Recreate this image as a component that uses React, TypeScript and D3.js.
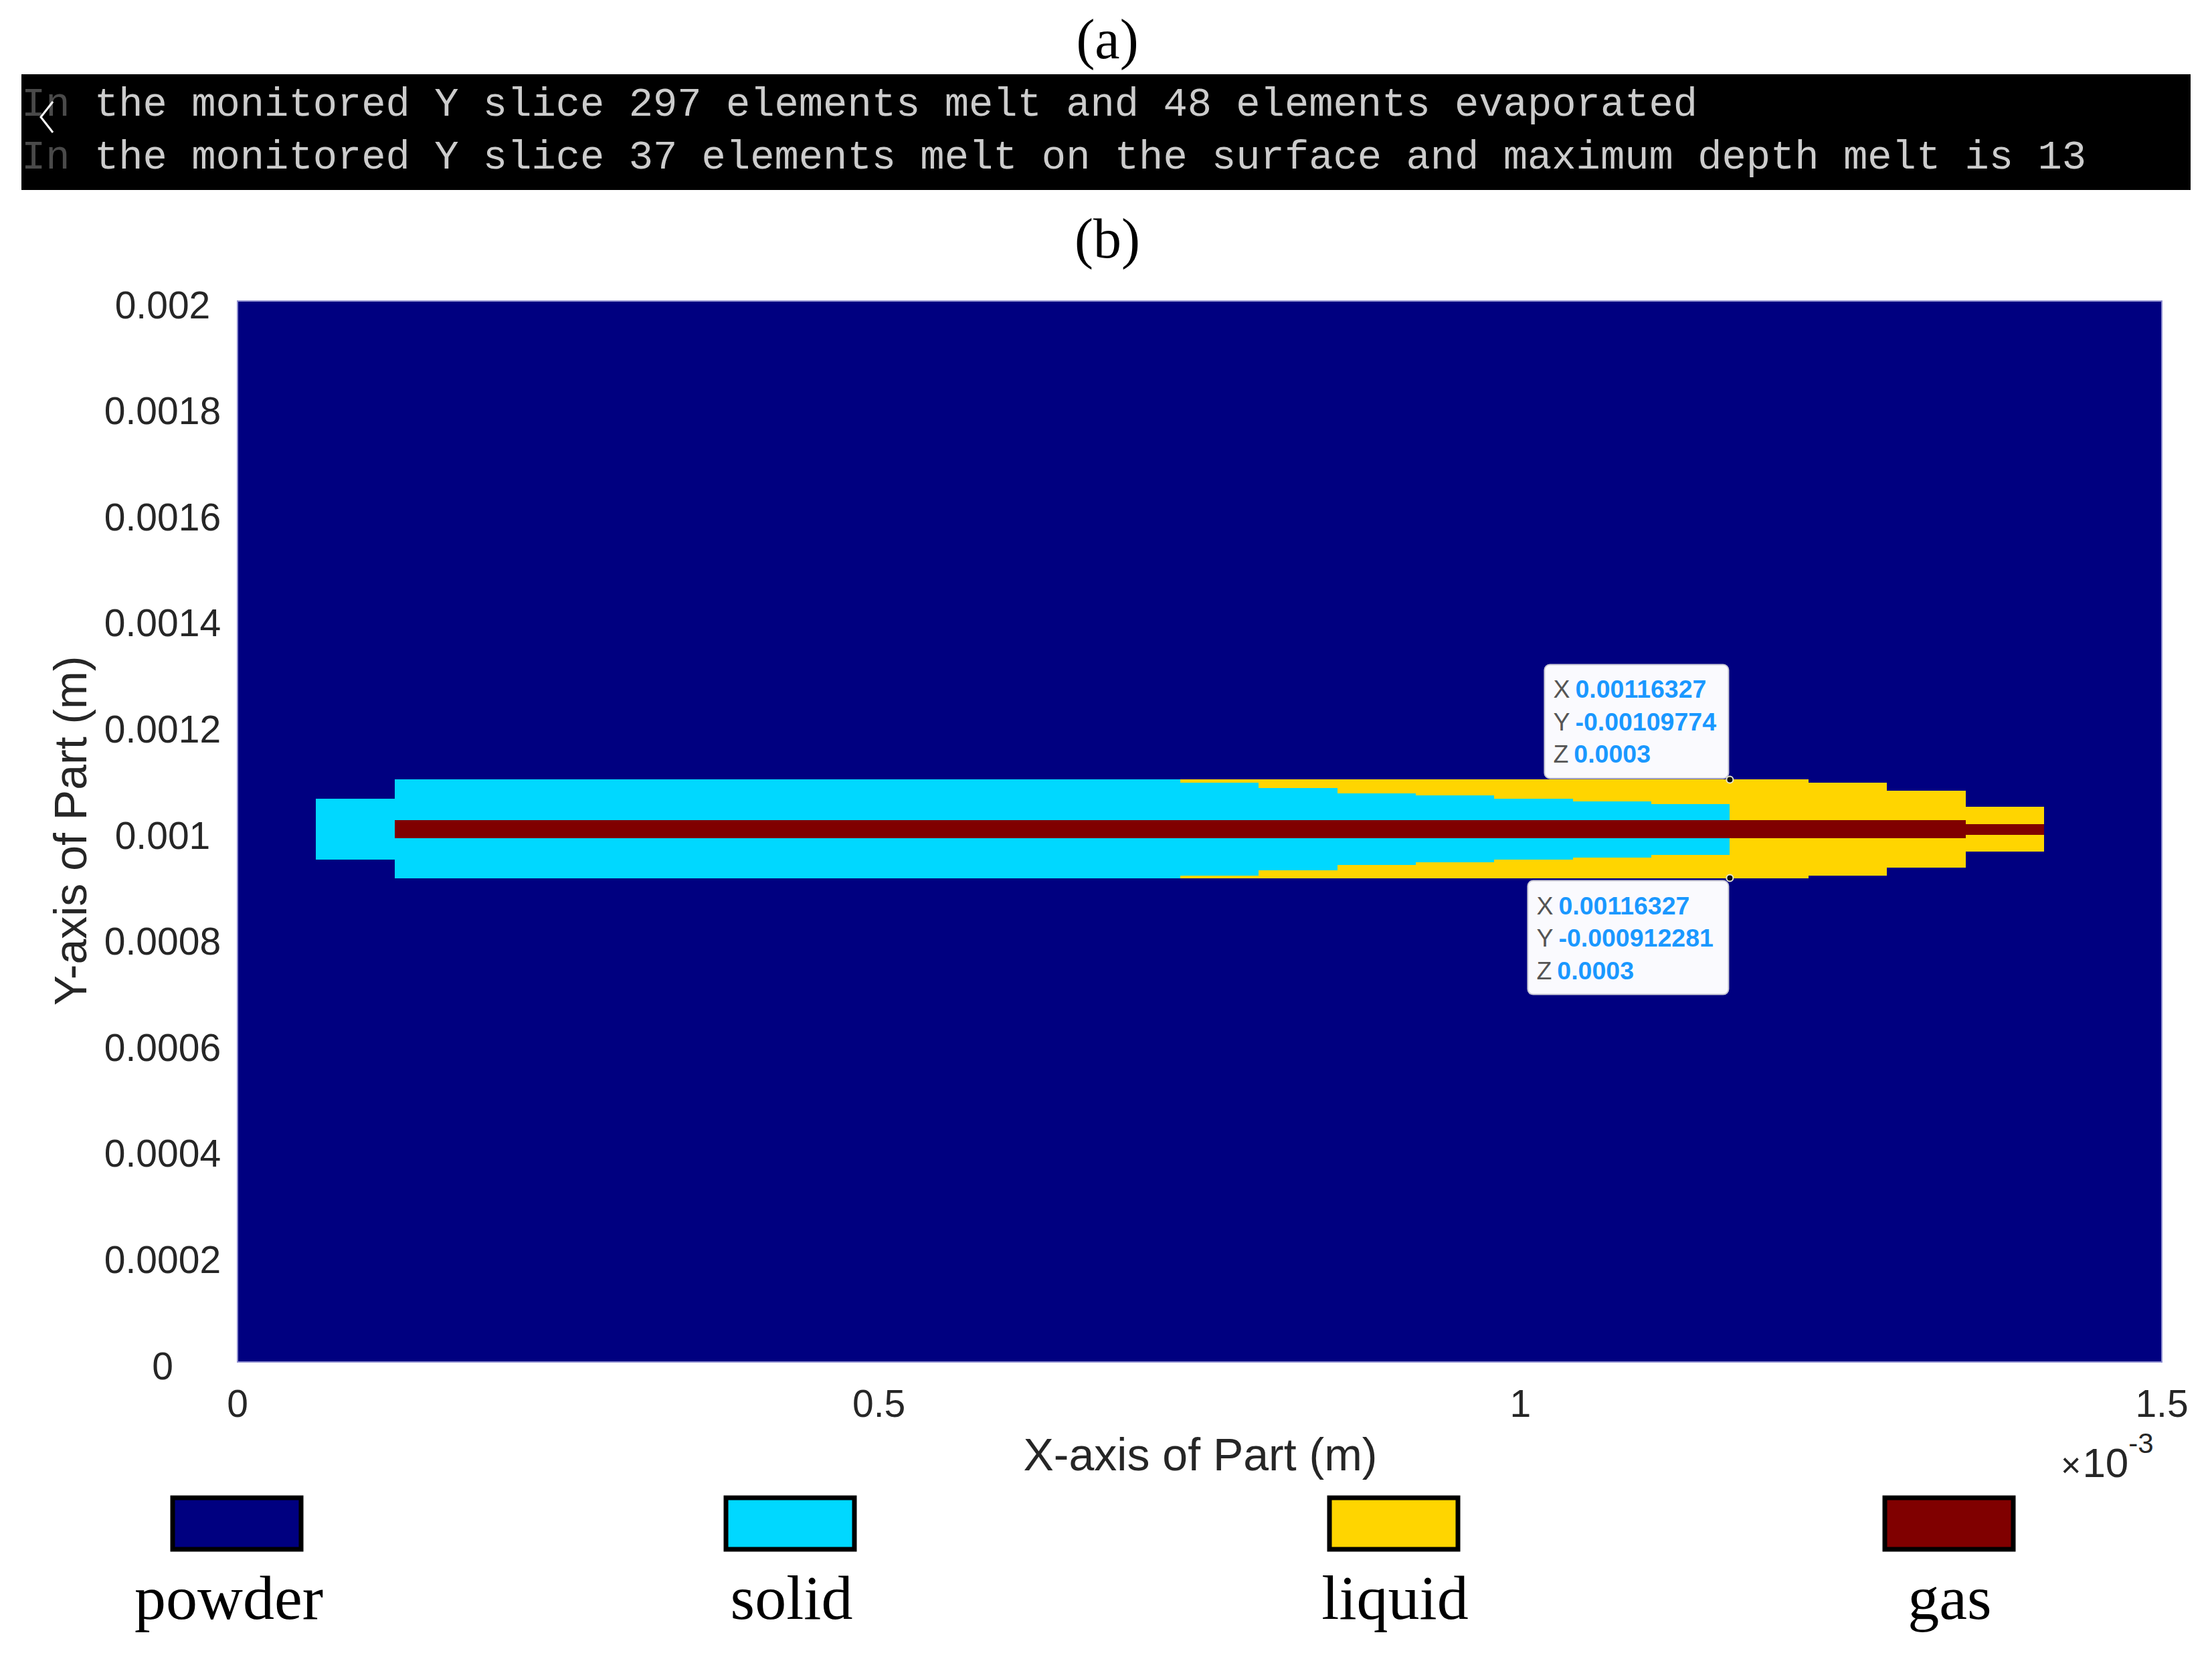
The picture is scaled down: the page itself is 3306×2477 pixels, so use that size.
import React from "react";
import * as d3 from "d3";

// ---- data ----
const consoleLines = [
  "the monitored Y slice 297 elements melt and 48 elements evaporated",
  "the monitored Y slice 37 elements melt on the surface and maximum depth melt is 13",
];

const xTicks = [0, 0.0005, 0.001, 0.0015];
const xTickLabels = ["0", "0.5", "1", "1.5"];
const yTicks = [0, 0.0002, 0.0004, 0.0006, 0.0008, 0.001, 0.0012, 0.0014, 0.0016, 0.0018, 0.002];
const yTickLabels = ["0", "0.0002", "0.0004", "0.0006", "0.0008", "0.001", "0.0012", "0.0014", "0.0016", "0.0018", "0.002"];

// column edges (m) of the melt-track elements
const colEdges = [
  0.0000612, 0.0001225, 0.0007347, 0.0007959, 0.0008572, 0.0009184, 0.0009796,
  0.0010408, 0.0011021, 0.00116327, 0.0012245, 0.0012857, 0.001347, 0.0014082,
];
const outerState = ["solid", "solid", "liquid", "liquid", "liquid", "liquid", "liquid", "liquid", "liquid", "liquid", "liquid", "liquid", "liquid"];
const outerTop = [0.0010618, 0.00109774, 0.00109774, 0.00109774, 0.00109774, 0.00109774, 0.00109774, 0.00109774, 0.00109774, 0.00109774, 0.0010921, 0.0010769, 0.0010467];
const outerBottom = [0.000947, 0.000912281, 0.000912281, 0.000912281, 0.000912281, 0.000912281, 0.000912281, 0.000912281, 0.000912281, 0.000912281, 0.0009168, 0.0009319, 0.0009622];
const solidTop = [null, null, 0.0010921, 0.001082, 0.0010719, 0.0010681, 0.0010618, 0.0010567, 0.0010517, null, null, null, null];
const solidBottom = [null, null, 0.0009168, 0.0009269, 0.0009369, 0.000942, 0.000947, 0.0009508, 0.0009559, null, null, null, null];
const gasTop = [null, 0.0010214, 0.0010214, 0.0010214, 0.0010214, 0.0010214, 0.0010214, 0.0010214, 0.0010214, 0.0010214, 0.0010214, 0.0010214, 0.0010139];
const gasBottom = [null, 0.0009874, 0.0009874, 0.0009874, 0.0009874, 0.0009874, 0.0009874, 0.0009874, 0.0009874, 0.0009874, 0.0009874, 0.0009874, 0.0009937];

const legendStates = ["powder", "solid", "liquid", "gas"];
const stateColors: Record<string, string> = {
  powder: "#000080",
  solid: "#00D8FF",
  liquid: "#FFD500",
  gas: "#800000",
};

const tipPoints = [
  { x: 0.00116327, y: 0.00109774, labels: ["X", "Y", "Z"], values: ["0.00116327", "-0.00109774", "0.0003"] },
  { x: 0.00116327, y: 0.000912281, labels: ["X", "Y", "Z"], values: ["0.00116327", "-0.000912281", "0.0003"] },
];

// layout: legend item centres (px)
const legendCenters = [354, 1181, 2083, 2913];
const legendLabelCenters = [342, 1183, 2085, 2914];

export default function App() {
  const W = 3306, H = 2477;
  const x = d3.scaleLinear().domain([0, 0.0015]).range([355, 3231]);
  const y = d3.scaleLinear().domain([0, 0.002]).range([2036, 450]);
  const legendX = d3.scaleOrdinal<string, number>().domain(legendStates).range(legendCenters);
  const legendLX = d3.scaleOrdinal<string, number>().domain(legendStates).range(legendLabelCenters);
  const sans = "'Liberation Sans', Arial, Helvetica, sans-serif";
  const serif = "'Liberation Serif', 'Times New Roman', serif";
  const mono = "'Liberation Mono', 'DejaVu Sans Mono', monospace";
  const axisColor = "#262626";

  const cols = outerState.map((s, i) => ({
    x0: colEdges[i], x1: colEdges[i + 1], s,
    ot: outerTop[i], ob: outerBottom[i],
    st: solidTop[i], sb: solidBottom[i],
    gt: gasTop[i], gb: gasBottom[i],
  }));

  const rect = (x0: number, x1: number, y0: number, y1: number, fill: string, key: string) => (
    <rect key={key} x={x(x0)} y={y(y1)} width={x(x1) - x(x0)} height={y(y0) - y(y1)} fill={fill} shapeRendering="crispEdges" />
  );

  return (
    <svg width={W} height={H} style={{ position: "absolute", left: 0, top: 0, background: "#fff" }}>
      <rect x={0} y={0} width={W} height={H} fill="#fff" />
      {/* (a) */}
      <text x={1655} y={87} fontFamily={serif} fontSize={84} textAnchor="middle" fill="#000">(a)</text>
      <rect x={32} y={111} width={3242} height={173} fill="#000" />
      {consoleLines.map((t, i) => (
        <text key={i} x={32} y={173 + i * 79} fontFamily={mono} fontSize={60.5} fill="#cccccc" xmlSpace="preserve">
          <tspan fill="#4a4a4a">In</tspan> {t}
        </text>
      ))}
      <path d="M79,152 L61,175 L79,198" fill="none" stroke="#ffffff" strokeWidth={3} />
      {/* (b) */}
      <text x={1655} y={385} fontFamily={serif} fontSize={84} textAnchor="middle" fill="#000">(b)</text>

      {/* plot area */}
      <rect x={x(0)} y={y(0.002)} width={x(0.0015) - x(0)} height={y(0) - y(0.002)} fill={stateColors.powder} stroke="#8f8fd0" strokeWidth={2} />
      <g>
        {cols.map((c, i) => rect(c.x0, c.x1, c.ob, c.ot, stateColors[c.s], "o" + i))}
        {cols.map((c, i) => c.st != null && c.sb != null ? rect(c.x0, c.x1, c.sb, c.st, stateColors.solid, "s" + i) : null)}
        {cols.map((c, i) => c.gt != null && c.gb != null ? rect(c.x0, c.x1, c.gb, c.gt, stateColors.gas, "g" + i) : null)}
      </g>

      {/* y ticks */}
      {yTicks.map((v, i) => (
        <text key={i} x={243} y={y(v) + 5} dy="0.36em" fontFamily={sans} fontSize={57} textAnchor="middle" fill={axisColor}>{yTickLabels[i]}</text>
      ))}
      {/* x ticks */}
      {xTicks.map((v, i) => (
        <text key={i} x={x(v)} y={2118} fontFamily={sans} fontSize={57} textAnchor="middle" fill={axisColor}>{xTickLabels[i]}</text>
      ))}
      <text x={3080} y={2208} fontFamily={sans} fontSize={62} fill={axisColor}>
        <tspan fontSize={52}>×</tspan><tspan dx={2}>10</tspan>
        <tspan fontSize={42} dy={-36}>-3</tspan>
      </text>
      <text x={1794} y={2198} fontFamily={sans} fontSize={68} textAnchor="middle" fill={axisColor}>X-axis of Part (m)</text>
      <text transform="translate(129,1242) rotate(-90)" fontFamily={sans} fontSize={68} textAnchor="middle" fill={axisColor}>Y-axis of Part (m)</text>

      {/* datatips */}
      {tipPoints.map((t, i) => {
        const px = x(t.x), py = y(t.y);
        const top = i === 0;
        const bx = top ? px - 277 : px - 302;
        const bw = top ? 275 : 300;
        const by = top ? py - 172 : py + 4;
        const bh = 170;
        return (
          <g key={i}>
            <rect x={bx} y={by} width={bw} height={bh} rx={8} fill="#fafafe" stroke="#c9c9d6" strokeWidth={2} />
            {t.labels.map((l, j) => (
              <text key={j} x={bx + 13} y={by + 50 + j * 48.5} fontFamily={sans} fontSize={37.5}>
                <tspan fill="#555">{l}</tspan>
                <tspan dx={8} fill="#1a98ff" fontWeight="bold">{t.values[j]}</tspan>
              </text>
            ))}
            <circle cx={px} cy={py} r={5} fill="#111" stroke="#e8e8d0" strokeWidth={2} />
          </g>
        );
      })}

      {/* legend */}
      {legendStates.map((s) => (
        <g key={s}>
          <rect x={legendX(s) - 96} y={2239} width={192} height={77} fill={stateColors[s]} stroke="#000" strokeWidth={7} />
          <text x={legendLX(s)} y={2420} fontFamily={serif} fontSize={94} textAnchor="middle" fill="#000">{s}</text>
        </g>
      ))}
    </svg>
  );
}
